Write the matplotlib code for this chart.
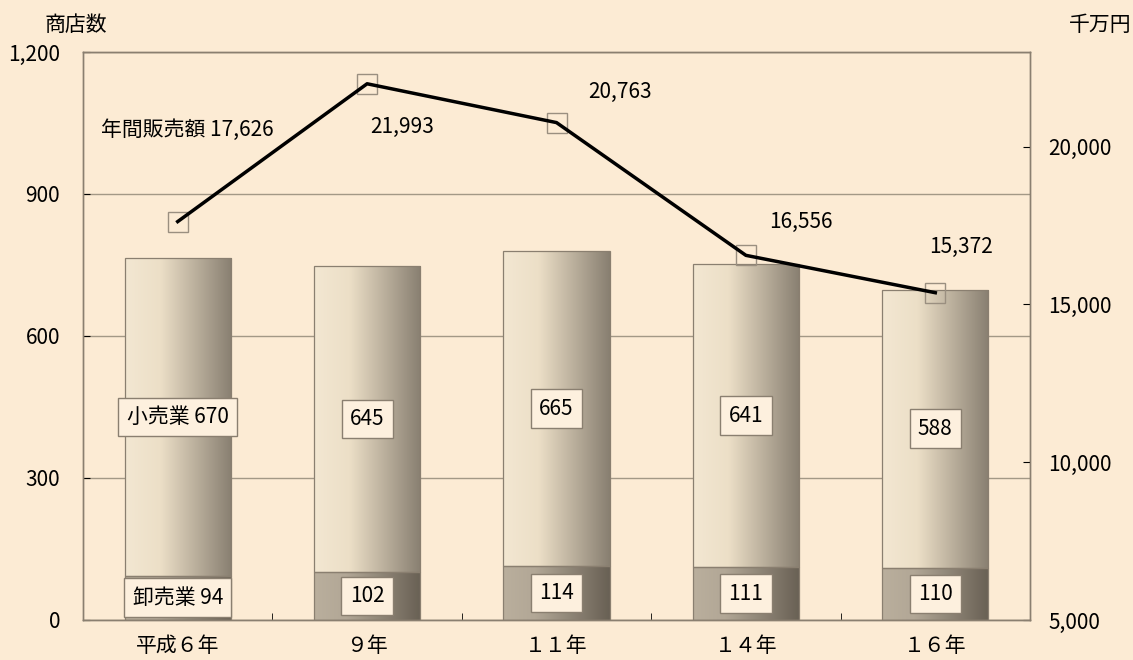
import numpy as np
import matplotlib
matplotlib.use("Agg")
import matplotlib.pyplot as plt

plt.rcParams['font.family'] = ['Noto Sans CJK JP', 'DejaVu Sans']

# ---- data ----
categories = ["平成６年", "９年", "１１年", "１４年", "１６年"]
wholesale = [94, 102, 114, 111, 110]
retail = [670, 645, 665, 641, 588]
sales = [17626, 21993, 20763, 16556, 15372]
left_ticks = [0, 300, 600, 900, 1200]
right_ticks = [5000, 10000, 15000, 20000]
retail_labels = ["小売業 670", "645", "665", "641", "588"]
wholesale_labels = ["卸売業 94", "102", "114", "111", "110"]
sales_labels = ["年間販売額 17,626", "21,993", "20,763", "16,556", "15,372"]
sales_offsets = [(9.5, 91.6), (35.5, -43.2), (64, 30.6), (55, 33.3), (26, 45.7)]  # label offsets in px

BG = "#fcebd4"
EDGE = "#8a7f70"
FS = 15
PX = 72 / 100  # px -> points

fig = plt.figure(figsize=(11.33, 6.60), dpi=100, facecolor=BG)
ax = fig.add_axes([83/1133, 1-620/660, (1030-83)/1133, (620-52)/660])
ax.set_facecolor(BG)

x = np.arange(len(categories))
w = 0.56

def gradient(stops, n=256):
    pos = [s[0] for s in stops]
    cols = np.array([s[1] for s in stops], dtype=float) / 255.0
    t = np.linspace(0, 1, n)
    arr = np.stack([np.interp(t, pos, cols[:, k]) for k in range(3)], axis=-1)
    return arr[np.newaxis, :, :]

retail_grad = gradient([(0, (243, 231, 210)), (0.33, (236, 223, 199)), (1.0, (136, 127, 113))])
whole_grad = gradient([(0, (186, 175, 157)), (0.3, (178, 167, 150)), (1.0, (104, 96, 84))])

bw = ax.bar(x, wholesale, w, facecolor="none", edgecolor=EDGE, linewidth=0.9, zorder=3)
br = ax.bar(x, retail, w, bottom=wholesale, facecolor="none", edgecolor=EDGE, linewidth=0.9, zorder=3)

for bars, grad in ((bw, whole_grad), (br, retail_grad)):
    for p in bars:
        bb = p.get_bbox()
        im = ax.imshow(grad, extent=[bb.x0, bb.x1, bb.y0, bb.y1], aspect='auto',
                       interpolation='bilinear', zorder=2)
        im.set_clip_path(p)

ax.set_xlim(-0.5, len(categories) - 0.5)
ax.set_ylim(0, 1200)
ax.set_yticks(left_ticks)
ax.set_yticklabels([f"{v:,}" for v in left_ticks], fontsize=FS)
ax.yaxis.grid(True, color="#a39886", linewidth=1.0, zorder=0)
ax.set_axisbelow(True)
ax.set_xticks(x)
ax.set_xticklabels(categories, fontsize=FS)
ax.set_xticks(np.arange(0.5, len(categories) - 0.5, 1), minor=True)
ax.tick_params(axis='x', which='major', length=0, pad=11)
ax.tick_params(axis='x', which='minor', length=5, direction='in', color='black')
ax.tick_params(axis='y', length=5, direction='in', color='black', pad=16.5)
for s in ax.spines.values():
    s.set_color(EDGE)
    s.set_linewidth(1.0)

box = dict(boxstyle="square,pad=0.4", facecolor="#fdf0de", edgecolor=EDGE, linewidth=1.0)
for i in range(len(categories)):
    ax.text(x[i], wholesale[i] + retail[i] / 2, retail_labels[i], ha='center', va='center',
            fontsize=FS, bbox=box, zorder=6)
    ax.text(x[i], wholesale[i] / 2, wholesale_labels[i], ha='center', va='center',
            fontsize=FS, bbox=box, zorder=6)

ax2 = ax.twinx()
ax2.set_ylim(5000, 23000)
ax2.set_yticks(right_ticks)
ax2.set_yticklabels([f"{v:,}" for v in right_ticks], fontsize=FS)
ax2.tick_params(axis='y', length=5, direction='in', color='black', pad=13)
for s in ax2.spines.values():
    s.set_color(EDGE)
    s.set_linewidth(1.0)
ax2.plot(x, sales, linestyle='none', marker='s', markersize=14, markerfacecolor='none',
         markeredgecolor="#9a8f80", markeredgewidth=1.0, zorder=4)
ax2.plot(x, sales, color='black', linewidth=2.5, zorder=5)
for i in range(len(categories)):
    ax2.annotate(sales_labels[i], (x[i], sales[i]),
                 xytext=(sales_offsets[i][0] * PX, sales_offsets[i][1] * PX),
                 textcoords='offset points', ha='center', va='center', fontsize=FS)

fig.text(76/1133, 1-25/660, "商店数", ha='center', va='center', fontsize=FS)
fig.text(1100/1133, 1-25/660, "千万円", ha='center', va='center', fontsize=FS)

fig.savefig("out.png", dpi=100, facecolor=BG)
